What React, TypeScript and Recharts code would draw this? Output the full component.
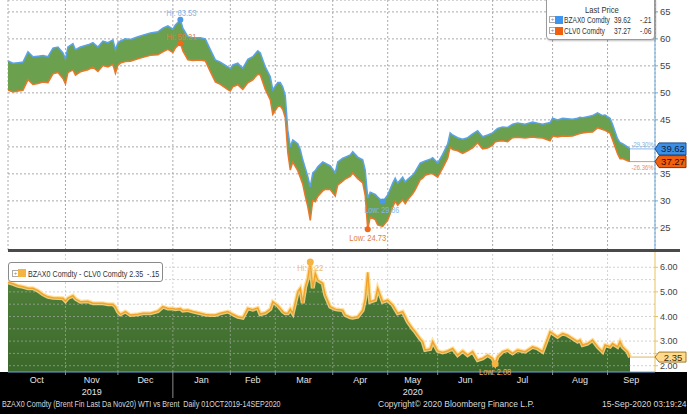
import React from 'react'
import {
  Area,
  CartesianGrid,
  ComposedChart,
  Line,
  ReferenceDot,
  ReferenceLine,
  XAxis,
  YAxis,
} from 'recharts'

const FONT = '"Liberation Sans", Arial, sans-serif'

// trading session number, counted in weekdays from 01 Oct 2019
const sessions = [
  0, 2, 4, 6, 8, 10, 12, 14, 16, 18, 20, 22, 23, 24, 26, 27, 29, 32, 34, 36, 38, 40, 42, 43, 44, 45, 47, 49,
  52, 54, 57, 60, 62, 64, 66, 67, 69, 70, 72, 74, 77, 79, 81, 83, 85, 88, 89, 90, 92, 93, 94, 96, 98, 100,
  101, 103, 105, 106, 108, 109, 110, 111, 112, 113, 114, 116, 117, 118, 119, 120, 121, 122, 123, 124, 126,
  127, 129, 131, 132, 134, 135, 137, 138, 140, 142, 143, 144, 145, 147, 148, 150, 152, 154, 155, 156, 158,
  159, 160, 162, 163, 165, 166, 167, 169, 170, 172, 174, 176, 177, 178, 180, 182, 184, 186, 188, 190, 192,
  194, 195, 196, 198, 200, 202, 204, 207, 210, 212, 214, 217, 218, 220, 222, 224, 226, 228, 229, 230, 232,
  234, 236, 238, 239, 241, 242, 244, 245, 246, 248, 249,
]

// BZAX0 Comdty (Brent, Nov20)
const brent = [
  55.9, 55.5, 55.6, 55.7, 57.6, 56.7, 56.8, 56.9, 56.7, 58.3, 58.5, 57.4, 56.3, 58.5, 59.1, 58.0, 58.5, 58.9,
  59.3, 58.5, 59.6, 59.3, 59.8, 58.0, 59.3, 59.6, 60.0, 59.9, 60.4, 60.7, 61.1, 61.3, 62.0, 62.4, 61.8, 62.6,
  63.53, 62.0, 60.4, 60.2, 60.2, 60.0, 58.0, 56.1, 55.7, 54.8, 54.5, 55.2, 55.5, 55.0, 54.6, 56.2, 56.7, 57.8,
  57.4, 54.8, 53.0, 50.6, 51.9, 51.9, 51.1, 49.5, 43.1, 40.0, 41.3, 40.6, 39.5, 37.6, 36.1, 34.5, 32.6, 35.2,
  35.6, 36.3, 37.2, 37.0, 36.5, 35.2, 37.2, 37.9, 38.1, 38.5, 39.1, 38.1, 37.6, 35.7, 30.53, 31.6, 31.2, 30.7,
  29.86, 31.1, 33.3, 34.2, 33.3, 34.4, 33.5, 34.0, 34.8, 35.4, 37.0, 37.2, 37.4, 37.7, 38.0, 37.0, 38.6, 40.5,
  42.6, 42.2, 41.7, 41.4, 41.7, 42.4, 43.0, 41.9, 42.2, 42.6, 43.0, 43.4, 43.7, 43.6, 44.2, 44.4, 44.2, 44.6,
  44.4, 44.2, 44.5, 45.3, 45.0, 45.3, 45.2, 45.1, 45.3, 45.5, 45.4, 45.6, 45.8, 46.3, 45.8, 45.9, 45.3, 44.2,
  41.5, 40.8, 40.6, 40.0, 39.62,
]

// CLV0 Comdty (WTI, Oct20)
const wti = [
  50.51, 50.17, 50.35, 50.49, 52.45, 51.55, 51.75, 52.0, 51.9, 53.54, 53.75, 52.66, 51.67, 53.75, 54.25, 53.28,
  53.9, 54.28, 54.76, 53.96, 55.06, 54.8, 55.3, 53.6, 55.1, 55.51, 55.8, 55.84, 56.31, 56.57, 56.97, 57.08,
  57.6, 58.07, 57.47, 58.3, 59.21, 57.76, 56.14, 56.0, 56.07, 55.92, 53.94, 52.04, 51.57, 50.6, 50.35, 51.11,
  51.51, 51.03, 50.65, 51.87, 52.42, 53.45, 53.3, 50.65, 48.7, 46.0, 47.45, 47.57, 46.9, 45.37, 38.97, 35.7,
  37.17, 35.6, 34.35, 33.06, 30.9, 28.95, 26.38, 30.05, 29.84, 30.82, 31.85, 32.13, 32.1, 30.9, 32.92, 33.64,
  34.04, 34.53, 35.15, 34.11, 33.34, 30.96, 24.73, 27.0, 26.53, 25.55, 25.26, 26.43, 28.83, 29.9, 29.17, 30.2,
  29.5, 30.21, 31.3, 32.02, 33.9, 34.22, 34.76, 35.02, 35.02, 34.4, 36.06, 37.9, 39.95, 39.5, 39.27, 38.8,
  39.27, 39.83, 40.77, 39.6, 39.77, 40.3, 40.92, 41.03, 41.13, 40.96, 41.7, 41.76, 41.63, 41.83, 41.7, 41.63,
  41.12, 41.99, 41.83, 41.99, 41.96, 41.99, 42.32, 42.46, 42.56, 42.7, 42.76, 43.53, 43.23, 43.06, 42.53,
  41.3, 38.73, 37.82, 37.83, 37.43, 37.27,
]

// BZAX0 - CLV0 spread
const spread = [
  5.39, 5.33, 5.25, 5.21, 5.15, 5.15, 5.05, 4.9, 4.8, 4.76, 4.75, 4.74, 4.63, 4.75, 4.85, 4.72, 4.6, 4.62, 4.54,
  4.54, 4.54, 4.5, 4.5, 4.4, 4.2, 4.09, 4.2, 4.06, 4.09, 4.13, 4.13, 4.22, 4.4, 4.33, 4.33, 4.3, 4.32, 4.24,
  4.26, 4.2, 4.13, 4.08, 4.06, 4.06, 4.13, 4.2, 4.15, 4.09, 3.99, 3.97, 3.95, 4.33, 4.28, 4.35, 4.1, 4.15, 4.3,
  4.6, 4.45, 4.33, 4.2, 4.13, 4.13, 4.3, 4.13, 5.0, 5.15, 4.54, 5.2, 5.55, 6.22, 5.15, 5.76, 5.48, 5.35, 4.87,
  4.4, 4.3, 4.28, 4.26, 4.06, 3.97, 3.95, 3.99, 4.26, 4.74, 5.8, 4.6, 4.67, 5.15, 4.6, 4.67, 4.47, 4.3, 4.13,
  4.2, 4.0, 3.79, 3.5, 3.38, 3.1, 2.98, 2.64, 2.68, 2.98, 2.6, 2.54, 2.6, 2.65, 2.7, 2.43, 2.6, 2.43, 2.57,
  2.23, 2.3, 2.43, 2.3, 2.08, 2.37, 2.57, 2.64, 2.5, 2.64, 2.57, 2.77, 2.7, 2.57, 3.38, 3.31, 3.17, 3.31,
  3.24, 3.11, 2.98, 3.04, 2.84, 2.9, 3.04, 2.77, 2.57, 2.84, 2.77, 2.9, 2.77, 2.98, 2.77, 2.57, 2.35,
]

const monthStarts = [0, 23, 44, 66, 89, 107, 130, 152, 172, 194, 218, 240]
const monthNames = ['Oct', 'Nov', 'Dec', 'Jan', 'Feb', 'Mar', 'Apr', 'May', 'Jun', 'Jul', 'Aug', 'Sep']
const yearLabels = ['', '2019', '', '', '', '', '', '2020', '', '', '', '']
const priceTicks = [25, 30, 35, 40, 45, 50, 55, 60, 65]
const spreadTicks = [2, 2.5, 3, 3.5, 4, 4.5, 5, 5.5, 6]

const LAST_SESSION = 259
const monthMids = monthStarts.map((s, i) => (s + (monthStarts[i + 1] ?? LAST_SESSION)) / 2)
const xTicks = [...monthStarts.slice(1), ...monthMids].sort((a, b) => a - b)

const rows = sessions.map((s, i) => ({
  idx: s,
  brent: brent[i],
  wti: wti[i],
  band: [wti[i], brent[i]],
  spread: spread[i],
}))

const last = rows[rows.length - 1]

function MonthTick(props: any) {
  const { x, y, payload } = props
  const v = payload.value
  const m = monthMids.indexOf(v)
  if (m < 0) {
    return <line x1={x} x2={x} y1={y} y2={y + (v === 66 ? 26 : 3)} stroke="#8c8c8c" strokeWidth={1} />
  }
  return (
    <g>
      <text x={x} y={y + 11} textAnchor="middle" fill="#e4e4e4" fontSize={9} fontFamily={FONT}>
        {monthNames[m]}
      </text>
      {yearLabels[m] && (
        <text x={x} y={y + 23} textAnchor="middle" fill="#e4e4e4" fontSize={9} fontFamily={FONT}>
          {yearLabels[m]}
        </text>
      )}
    </g>
  )
}

// condensed text placed relative to a reference dot / line
function tightLabel(text: string, color: string, dy: number, len: number, dx = 0, size = 9) {
  return (props: any) => {
    const vb = props.viewBox || {}
    const cx = (vb.x ?? 0) + (vb.width ?? 0) / 2 + dx
    const cy = (vb.y ?? 0) + (vb.height ?? 0) / 2 + dy
    return (
      <text
        x={cx}
        y={cy}
        textAnchor="middle"
        fill={color}
        fontSize={size}
        fontFamily={FONT}
        textLength={len}
        lengthAdjust="spacingAndGlyphs"
      >
        {text}
      </text>
    )
  }
}

function PriceTag({ cx, cy, fill, stroke, text, color, half = 6 }: any) {
  if (cx == null || cy == null) return null
  return (
    <g>
      <path
        d={`M${cx},${cy} L${cx + 4},${cy - half} L${cx + 31},${cy - half} L${cx + 31},${cy + half} L${cx + 4},${cy + half} Z`}
        fill={fill}
        stroke={stroke}
        strokeWidth={1}
      />
      <text x={cx + 18} y={cy + 3.5} textAnchor="middle" fill={color} fontSize={9.5} fontFamily={FONT}>
        {text}
      </text>
    </g>
  )
}

function PlusBox({ x, y }: { x: number; y: number }) {
  return (
    <div
      style={{
        position: 'absolute',
        left: x,
        top: y,
        width: 5,
        height: 5,
        border: '1px solid #aaa',
        fontSize: 6,
        lineHeight: '5px',
        textAlign: 'center',
        color: '#888',
      }}
    >
      +
    </div>
  )
}

function Swatch({ x, y, color }: { x: number; y: number; color: string }) {
  return <div style={{ position: 'absolute', left: x, top: y, width: 8, height: 8, background: color }} />
}

// HTML text squeezed horizontally to mimic the terminal's condensed face
function Txt({ x, y, children, sx = 0.7, size = 9.5, color = '#333' }: any) {
  return (
    <div
      style={{
        position: 'absolute',
        left: x,
        top: y,
        fontSize: size,
        lineHeight: 1,
        color,
        whiteSpace: 'pre',
        transform: `scaleX(${sx})`,
        transformOrigin: 'left top',
      }}
    >
      {children}
    </div>
  )
}

export default function App() {
  const axisTick = { fill: '#444', fontSize: 9.5, fontFamily: FONT }
  const spreadTick = { fill: '#444', fontSize: 9, fontFamily: FONT }
  return (
    <div
      style={{
        position: 'absolute',
        left: 0,
        top: 0,
        width: 687,
        height: 414,
        background: '#fff',
        overflow: 'hidden',
        fontFamily: FONT,
      }}
    >
      {/* price panel */}
      <div style={{ position: 'absolute', left: 0, top: 0 }}>
        <ComposedChart width={687} height={250} data={rows} margin={{ top: 0, right: 0, bottom: 0, left: 8 }}>
          <CartesianGrid stroke="#aaa" strokeDasharray="2 2" />
          <XAxis dataKey="idx" type="number" domain={[0, LAST_SESSION]} ticks={monthStarts.slice(1)} hide />
          <YAxis
            orientation="right"
            type="number"
            domain={[20.9, 67.2]}
            ticks={priceTicks}
            allowDataOverflow
            width={32}
            axisLine={{ stroke: '#6fa8dc' }}
            tickLine={{ stroke: '#6fa8dc' }}
            tickSize={3}
            tickMargin={2}
            tick={axisTick}
            tickFormatter={(v: number) => (v === 40 ? '' : String(v))}
          />
          <Area dataKey="band" type="linear" fill="#6ba04f" fillOpacity={1} stroke="none" isAnimationActive={false} />
          <Line dataKey="brent" type="linear" stroke="#5ba3e8" strokeWidth={1.5} dot={false} isAnimationActive={false} />
          <Line dataKey="wti" type="linear" stroke="#e8782a" strokeWidth={1.5} dot={false} isAnimationActive={false} />
          <ReferenceLine
            segment={[{ x: last.idx, y: last.brent }, { x: LAST_SESSION, y: last.brent }]}
            stroke="#8ab8e8"
            label={tightLabel('-29.30%', '#7fb0e0', -1.5, 22, 0, 8)}
          />
          <ReferenceLine
            segment={[{ x: last.idx, y: last.wti }, { x: LAST_SESSION, y: last.wti }]}
            stroke="#e8955a"
            label={tightLabel('-26.36%', '#e8905a', 8, 22, 0, 8)}
          />
          <ReferenceDot x={69} y={63.53} r={3} fill="#4a98e8" stroke="none" label={tightLabel('Hi: 63.53', '#86b6e6', -4, 30, 1)} />
          <ReferenceDot x={69} y={59.21} r={3} fill="#f06a1a" stroke="none" label={tightLabel('Hi: 59.21', '#e0803a', -3, 30, 1)} />
          <ReferenceDot x={150} y={29.86} r={3} fill="#4a98e8" stroke="none" label={tightLabel('Low: 29.86', '#86b6e6', 11, 35, -1)} />
          <ReferenceDot x={144} y={24.73} r={3} fill="#f06a1a" stroke="none" label={tightLabel('Low: 24.73', '#e0803a', 12, 37)} />
          <ReferenceDot
            x={LAST_SESSION}
            y={last.brent}
            ifOverflow="visible"
            shape={(p: any) => <PriceTag {...p} fill="#3d8fe6" stroke="#1d4f8f" color="#0c1f3d" text="39.62" />}
          />
          <ReferenceDot
            x={LAST_SESSION}
            y={last.wti}
            ifOverflow="visible"
            shape={(p: any) => <PriceTag {...p} fill="#f0600f" stroke="#8a3000" color="#2a0d00" text="37.27" />}
          />
        </ComposedChart>
      </div>

      {/* separator between panels */}
      <div style={{ position: 'absolute', left: 8, top: 249, width: 672, height: 3, background: '#4a4a4a' }} />

      {/* black axis band */}
      <div style={{ position: 'absolute', left: 0, top: 372, width: 687, height: 42, background: '#000' }} />

      {/* spread panel */}
      <div style={{ position: 'absolute', left: 0, top: 250 }}>
        <ComposedChart width={687} height={164} data={rows} margin={{ top: 2, right: 0, bottom: 0, left: 8 }}>
          <defs>
            <linearGradient id="spreadFill" x1="0" y1="0" x2="0" y2="1">
              <stop offset="0%" stopColor="#52843c" />
              <stop offset="100%" stopColor="#3b682b" />
            </linearGradient>
          </defs>
          <XAxis
            dataKey="idx"
            type="number"
            domain={[0, LAST_SESSION]}
            ticks={xTicks}
            interval={0}
            height={42}
            tickLine={false}
            tickSize={0}
            tickMargin={0}
            axisLine={{ stroke: '#6fa8dc' }}
            tick={MonthTick}
          />
          <YAxis
            orientation="right"
            type="number"
            domain={[1.744, 6.622]}
            ticks={spreadTicks}
            allowDataOverflow
            tickFormatter={(v: number) => (v === 2.5 ? '' : v.toFixed(2))}
            width={32}
            axisLine={{ stroke: '#e8c35a' }}
            tickLine={{ stroke: '#e8c35a' }}
            tickSize={3}
            tickMargin={2}
            tick={spreadTick}
          />
          <Area
            dataKey="spread"
            type="linear"
            fill="url(#spreadFill)"
            fillOpacity={1}
            stroke="none"
            isAnimationActive={false}
          />
          {spreadTicks.map(t => (
            <ReferenceLine key={'h' + t} y={t} stroke="#b4b4b4" strokeOpacity={0.6} strokeDasharray="2 2" />
          ))}
          {monthStarts.slice(1).map(s => (
            <ReferenceLine key={'v' + s} x={s} stroke="#b4b4b4" strokeOpacity={0.6} strokeDasharray="2 2" />
          ))}
          <Line dataKey="spread" type="linear" stroke="#ffdc8a" strokeOpacity={0.85} strokeWidth={4} dot={false} isAnimationActive={false} />
          <Line dataKey="spread" type="linear" stroke="#f2a32c" strokeWidth={1.5} dot={false} isAnimationActive={false} />
          <ReferenceLine
            segment={[{ x: last.idx, y: last.spread }, { x: LAST_SESSION, y: last.spread }]}
            stroke="#e9cf98"
            strokeWidth={1.5}
          />
          <ReferenceDot x={121} y={6.22} r={3.5} fill="#f5b342" stroke="none" label={tightLabel('Hi: 6.22', '#eebc6a', 9, 26)} />
          <ReferenceDot x={195} y={2.08} r={3.5} fill="#f5b342" stroke="none" label={tightLabel('Low: 2.08', '#e6b860', 11, 32)} />
          <ReferenceDot
            x={LAST_SESSION}
            y={last.spread}
            ifOverflow="visible"
            shape={(p: any) => <PriceTag {...p} half={5} fill="#ffd98c" stroke="#a07a2a" color="#3a2a08" text="2.35" />}
          />
        </ComposedChart>
      </div>

      {/* price legend */}
      <div
        style={{
          position: 'absolute',
          left: 546,
          top: -1,
          width: 107,
          height: 39,
          border: '1px solid #9a9a9a',
          borderRadius: '0 0 4px 4px',
          background: '#fff',
          boxShadow: '1px 1px 2px rgba(0,0,0,0.25)',
        }}
      />
      <Txt x={585} y={5} sx={0.8}>Last Price</Txt>
      <PlusBox x={549} y={16} />
      <Swatch x={555} y={16} color="#3d95f0" />
      <Txt x={564} y={15}>BZAX0 Comdty</Txt>
      <Txt x={614} y={15}>39.62</Txt>
      <Txt x={640} y={15}>-.21</Txt>
      <PlusBox x={549} y={27} />
      <Swatch x={555} y={27} color="#f0600f" />
      <Txt x={564} y={26}>CLV0 Comdty</Txt>
      <Txt x={614} y={26}>37.27</Txt>
      <Txt x={640} y={26}>-.06</Txt>

      {/* spread legend */}
      <div
        style={{
          position: 'absolute',
          left: 8,
          top: 262,
          width: 155,
          height: 20,
          border: '1px solid #8a8a8a',
          borderRadius: 3,
          background: '#fff',
          boxSizing: 'border-box',
        }}
      />
      <PlusBox x={12} y={270} />
      <Swatch x={18} y={269} color="#f5b342" />
      <Txt x={28} y={269} sx={0.75}>BZAX0 Comdty - CLV0 Comdty 2.35  -.15</Txt>

      {/* footer */}
      <Txt x={2} y={400} size={8.5} sx={0.84} color="#d8d8d8">
        BZAX0 Comdty (Brent Fin Last Da Nov20) WTI vs Brent  Daily 01OCT2019-14SEP2020
      </Txt>
      <Txt x={378} y={400} size={8.5} sx={1} color="#d8d8d8">
        Copyright© 2020 Bloomberg Finance L.P.
      </Txt>
      <Txt x={602} y={400} size={8.5} sx={1} color="#d8d8d8">
        15-Sep-2020 03:19:24
      </Txt>
    </div>
  )
}
